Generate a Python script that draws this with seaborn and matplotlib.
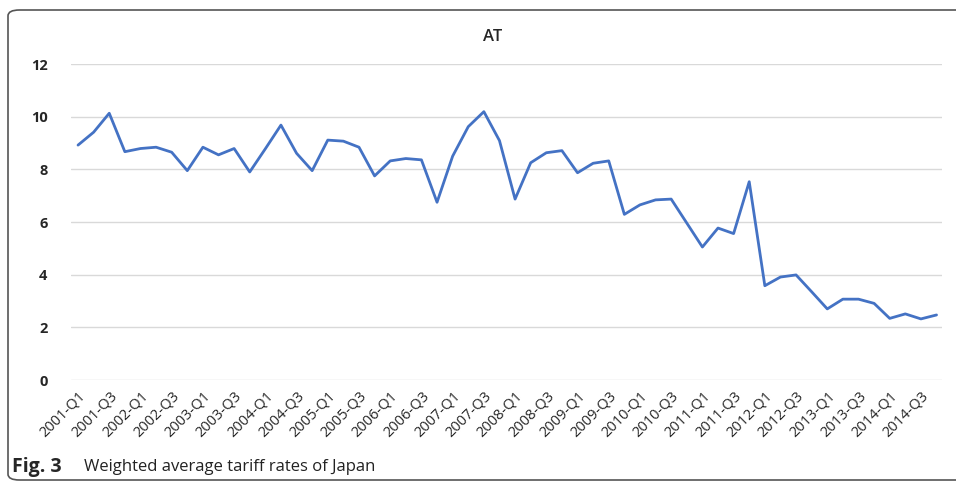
import seaborn as sns
import matplotlib.pyplot as plt
from matplotlib.patches import FancyBboxPatch
import pandas as pd

years = list(range(2001, 2015))
quarters = [f"{y}-Q{q}" for y in years for q in range(1, 5)]

tariff = [
    8.92, 9.41, 10.13, 8.67, 8.79, 8.84, 8.65, 7.95,
    8.84, 8.55, 8.79, 7.90, 8.78, 9.68, 8.61, 7.95,
    9.11, 9.07, 8.84, 7.75, 8.32, 8.41, 8.36, 6.75,
    8.50, 9.62, 10.19, 9.09, 6.87, 8.25, 8.63, 8.71,
    7.87, 8.23, 8.32, 6.29, 6.65, 6.84, 6.87, 5.96,
    5.05, 5.77, 5.56, 7.53, 3.58, 3.91, 3.99, 3.35,
    2.70, 3.07, 3.07, 2.91, 2.34, 2.51, 2.32, 2.47,
]

df = pd.DataFrame({"quarter": quarters, "rate": tariff})
df["pos"] = range(len(df))

sns.set_style("white")
plt.rcParams["font.family"] = ["Open Sans", "DejaVu Sans"]

fig = plt.figure(figsize=(9.56, 4.86), dpi=100)
ax = fig.add_axes([71 / 956, 1 - 380 / 486, (942 - 71) / 956, (380 - 64) / 486])

sns.lineplot(data=df, x="pos", y="rate", color="#4472C4", linewidth=2, ax=ax)

ax.set_ylim(0, 12)
ax.set_yticks(range(0, 13, 2))
ax.set_xlim(-0.45, 55.35)
ax.grid(axis="y", color="#d9d9d9", linewidth=1)
ax.set_axisbelow(True)
for s in ax.spines.values():
    s.set_visible(False)

# only every other quarter gets a label
tick_pos = df["pos"][::2]
ax.set_xticks(tick_pos)
ax.set_xticklabels(df["quarter"][::2], rotation=45, ha="right",
                   rotation_mode="anchor", fontsize=10.5)
ax.tick_params(axis="x", length=0, pad=6)
ax.tick_params(axis="y", length=0, pad=17)
for lbl in ax.get_yticklabels():
    lbl.set_fontweight("bold")
    lbl.set_fontsize(10.5)
ax.set_xlabel("")
ax.set_ylabel("")

fig.text(493 / 956, 1 - 37 / 486, "AT", ha="center", va="center",
         fontsize=12, fontweight="semibold")

# caption
fig.text(12 / 956, 1 - 467 / 486, "Fig. 3", ha="left", va="center",
         fontsize=14, fontweight="bold")
fig.text(84 / 956, 1 - 467 / 486, "Weighted average tariff rates of Japan",
         ha="left", va="center", fontsize=12, color="#222222")

# rounded frame around the figure
box = FancyBboxPatch((8 / 956, 6 / 486), 1.05, 1 - 16 / 486,
                     boxstyle="round,pad=0,rounding_size=0.012",
                     transform=fig.transFigure, fill=False,
                     edgecolor="#555555", linewidth=1.2, clip_on=False)
fig.patches.append(box)

fig.savefig("out.png", dpi=100)
